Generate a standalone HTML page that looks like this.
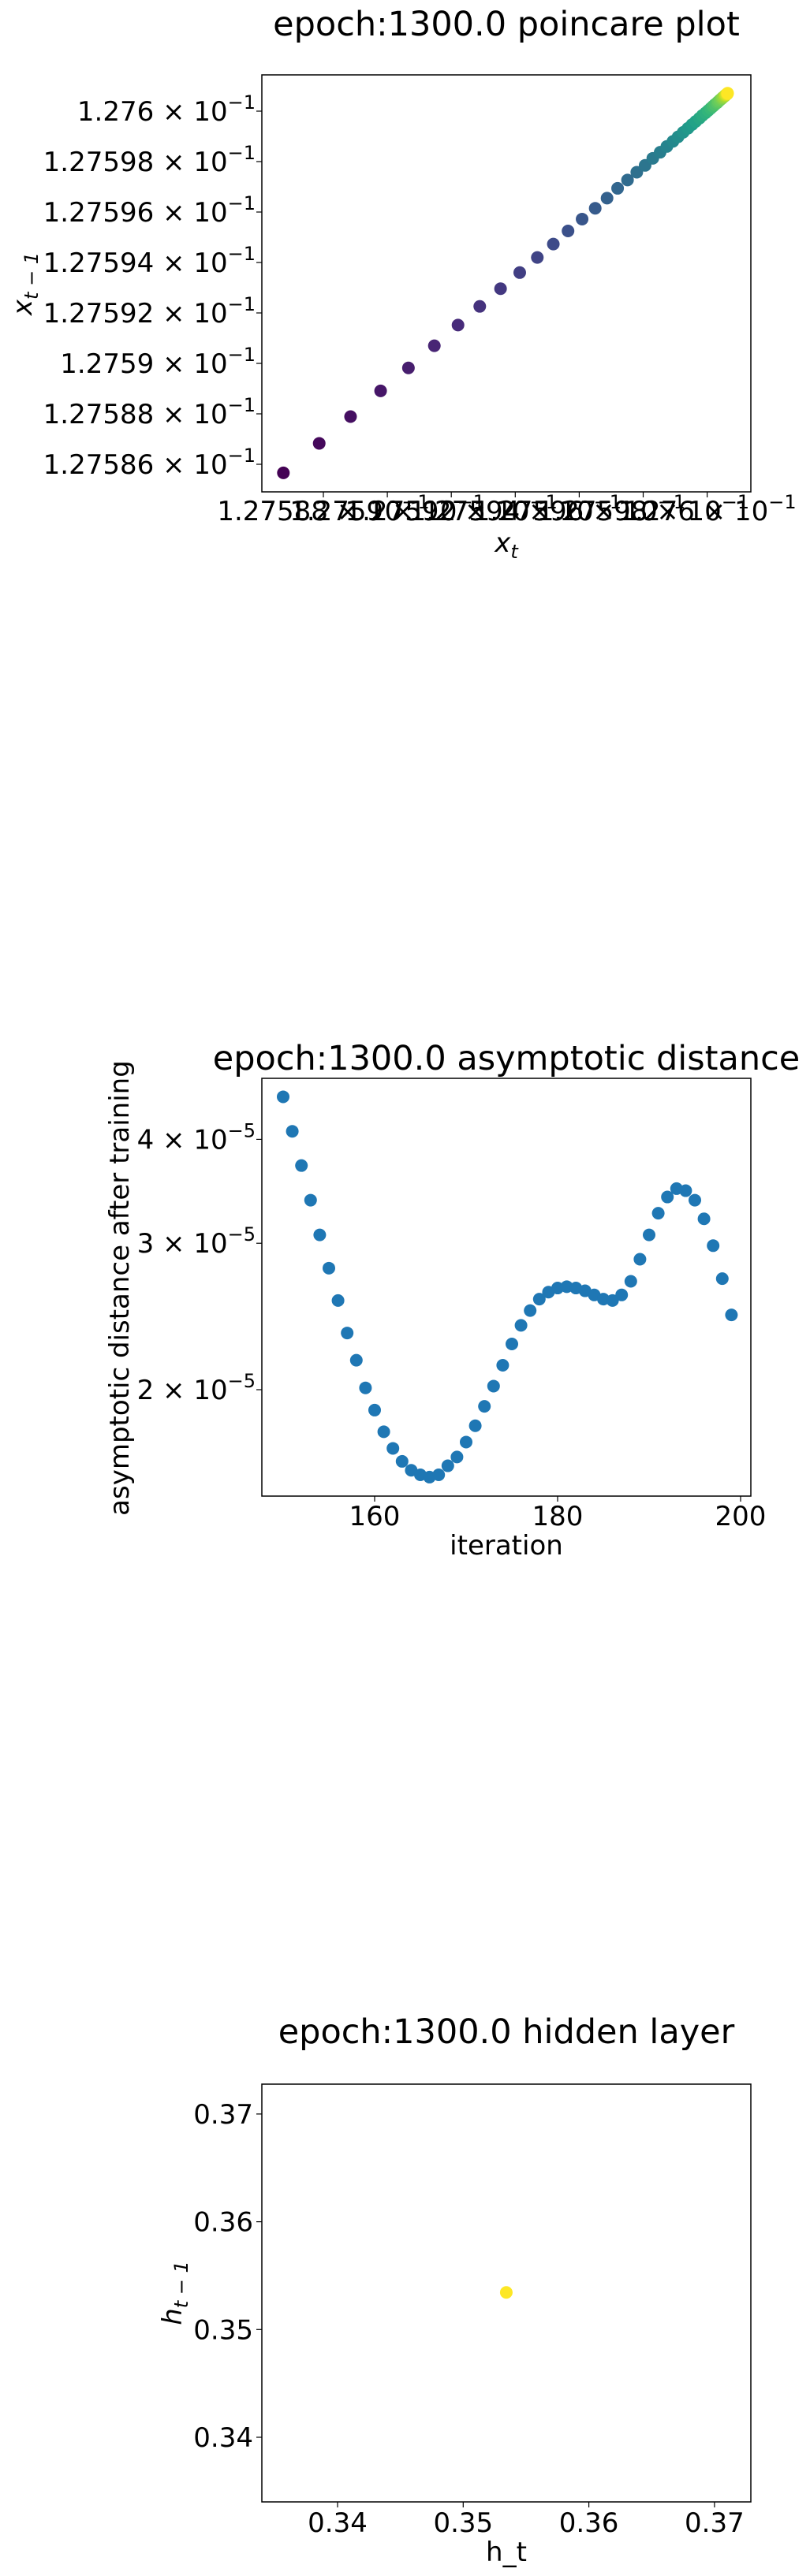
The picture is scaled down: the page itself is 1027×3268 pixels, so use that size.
<!DOCTYPE html>
<html><head><meta charset="utf-8"><title>epoch 1300 plots</title>
<style>html,body{margin:0;padding:0;background:#fff}svg{display:block}text{font-family:"DejaVu Sans","Liberation Sans",sans-serif;fill:#000}</style>
</head><body>
<svg id="fig" xmlns="http://www.w3.org/2000/svg" width="1027" height="3268" viewBox="0 0 1027 3268"></svg>
<script>
// ---- Chart 1: poincare plot (mantissa of value ×10^-1) ----
const poincareX = [1.2758675,1.2758787,1.2758885,1.2758979,1.2759066,1.2759147,1.2759221,1.2759289,1.2759354,1.2759414,1.2759469,1.2759519,1.2759565,1.2759609,1.275965,1.2759687,1.275972,1.2759751,1.275978,1.2759806,1.275983,1.2759853,1.2759874,1.2759893,1.2759909,1.2759925,1.275994,1.2759953,1.2759964,1.2759976,1.2759985,1.2759995,1.2760003,1.2760011,1.2760018,1.2760024,1.2760031,1.2760035,1.276004,1.2760045,1.2760048,1.2760051,1.2760055,1.2760056,1.2760058,1.2760059,1.2760061,1.2760063,1.2760063,1.2760064];
const poincareY = [1.2758566,1.2758683,1.2758789,1.2758891,1.2758982,1.275907,1.2759152,1.2759226,1.2759296,1.275936,1.275942,1.2759473,1.2759525,1.2759572,1.2759615,1.2759655,1.2759694,1.2759727,1.2759758,1.2759785,1.2759813,1.2759837,1.275986,1.275988,1.2759898,1.2759916,1.2759932,1.2759947,1.2759959,1.2759972,1.2759983,1.2759993,1.2760002,1.2760011,1.2760019,1.2760026,1.2760033,1.2760038,1.2760044,1.2760049,1.2760053,1.2760056,1.276006,1.2760062,1.2760064,1.2760065,1.2760067,1.2760069,1.2760069,1.2760071];
const poincareXTicks = [1.27588,1.2759,1.27592,1.27594,1.27596,1.27598,1.276];
const poincareXTickLabels = ["1.27588","1.2759","1.27592","1.27594","1.27596","1.27598","1.276"];
const poincareYTicks = [1.27586,1.27588,1.2759,1.27592,1.27594,1.27596,1.27598,1.276];
const poincareYTickLabels = ["1.27586","1.27588","1.2759","1.27592","1.27594","1.27596","1.27598","1.276"];

// ---- Chart 2: asymptotic distance (units of 1e-5) ----
const iterations = [150,151,152,153,154,155,156,157,158,159,160,161,162,163,164,165,166,167,168,169,170,171,172,173,174,175,176,177,178,179,180,181,182,183,184,185,186,187,188,189,190,191,192,193,194,195,196,197,198,199];
const distances = [4.50,4.09,3.72,3.38,3.07,2.80,2.56,2.34,2.17,2.01,1.89,1.78,1.70,1.64,1.60,1.58,1.57,1.58,1.62,1.66,1.73,1.81,1.91,2.02,2.14,2.27,2.39,2.49,2.57,2.62,2.65,2.66,2.65,2.63,2.60,2.57,2.56,2.60,2.70,2.87,3.07,3.26,3.41,3.49,3.47,3.38,3.21,2.98,2.72,2.46];
const distXTicks = [160,180,200];
const distYTicks = [2,3,4];

// ---- Chart 3: hidden layer ----
const hiddenX = [0.35343];
const hiddenY = [0.35344];
const hiddenTicks = [0.34,0.35,0.36,0.37];
const hiddenTickLabels = ["0.34","0.35","0.36","0.37"];

const NS = "http://www.w3.org/2000/svg";
const svg = document.getElementById('fig');
function el(tag, attrs, parent){const e=document.createElementNS(NS,tag);for(const k in attrs)e.setAttribute(k,attrs[k]);(parent||svg).appendChild(e);return e;}
function viridis(t){
  const s=[[68,1,84],[72,40,120],[62,74,137],[49,104,142],[38,130,142],[31,158,137],[53,183,121],[109,205,89],[180,222,44],[253,231,37]];
  const p=t*(s.length-1),i=Math.min(Math.floor(p),s.length-2),f=p-i;
  const c=s[i].map((v,k)=>Math.round(v+(s[i+1][k]-v)*f));return `rgb(${c[0]},${c[1]},${c[2]})`;
}
function sciLabel(g,x,y,mant,exp,name){
  const t=el('text',{x:x,y:y,'text-anchor':'end','font-size':34},g);
  
  
  const a=el('tspan',{},t);a.textContent=mant+' \u00d7 10';
  const b=el('tspan',{dy:-15,'font-size':24},t);b.textContent='\u2212'+exp;
  return t;
}
function frame(g,L,R,T,B){const r=el('rect',{x:L,y:T,width:R-L,height:B-T,fill:'none',stroke:'#000','stroke-width':1.5},g);
  
  }
function label(g,txt,x,y,size,name,extra){const t=el('text',Object.assign({x:x,y:y,'text-anchor':'middle','font-size':size},extra||{}),g);t.textContent=txt;
  
  return t;}

const L=332,R=952;
// ===== Chart 1 =====
(function(){
  const g=el('g',{});
  
  
  const T=95,B=624;
  const xs=v=>410+(v-1.27588)/0.00002*81.1;
  const ys=v=>141+(1.276-v)/0.00002*64;
  label(g,'epoch:1300.0 poincare plot',642,45,43,'chart-title');
  frame(g,L,R,T,B);
  poincareX.forEach((v,i)=>{const c=el('circle',{cx:xs(v),cy:ys(poincareY[i]),r:8,fill:viridis(i/(poincareX.length-1))},g);
    
    });
  poincareYTicks.forEach((v,i)=>{const y=ys(v);el('line',{x1:L-7,x2:L,y1:y,y2:y,stroke:'#000','stroke-width':1.2},g);
    sciLabel(g,324,y+12,poincareYTickLabels[i],'1','y-tick-label');});
  poincareXTicks.forEach((v,i)=>{const x=xs(v);el('line',{x1:x,x2:x,y1:B,y2:B+7,stroke:'#000','stroke-width':1.2},g);
    const t=el('text',{x:x,y:660,'text-anchor':'middle','font-size':34},g);
    
    
    el('tspan',{},t).textContent=poincareXTickLabels[i]+' \u00d7 10';
    el('tspan',{dy:-15,'font-size':24},t).textContent='\u22121';});
  const xl=label(g,'',642,700,34,'x-axis-title',{'font-style':'italic'});
  el('tspan',{},xl).textContent='x';el('tspan',{dy:8,'font-size':24},xl).textContent='t';
  const yl=label(g,'',0,0,34,'y-axis-title',{'font-style':'italic',transform:'translate(40,360) rotate(-90)'});
  el('tspan',{},yl).textContent='x';el('tspan',{dy:8,'font-size':24},yl).textContent='t \u2212 1';
})();

// ===== Chart 2 =====
(function(){
  const g=el('g',{});
  
  
  const T=1368,B=1898;
  const xs=v=>475+(v-160)/20*232;
  const ys=v=>1763-Math.log10(v/2)*1055;
  label(g,'epoch:1300.0 asymptotic distance',642,1357,43,'chart-title');
  frame(g,L,R,T,B);
  iterations.forEach((v,i)=>{const c=el('circle',{cx:xs(v),cy:ys(distances[i]),r:8,fill:'#1f77b4'},g);
    
    });
  distYTicks.forEach(v=>{const y=ys(v);el('line',{x1:L-7,x2:L,y1:y,y2:y,stroke:'#000','stroke-width':1.2},g);
    sciLabel(g,324,y+12,String(v),'5','y-tick-label');});
  distXTicks.forEach(v=>{const x=xs(v);el('line',{x1:x,x2:x,y1:B,y2:B+7,stroke:'#000','stroke-width':1.2},g);
    label(g,String(v),x,1935,34,'x-tick-label');});
  label(g,'iteration',642,1972,34,'x-axis-title');
  label(g,'asymptotic distance after training',0,0,34,'y-axis-title',{transform:'translate(163,1634) rotate(-90)'});
})();

// ===== Chart 3 =====
(function(){
  const g=el('g',{});
  
  
  const T=2644,B=3174;
  const xs=v=>428+(v-0.34)/0.01*159.3;
  const ys=v=>3092-(v-0.34)/0.01*136.7;
  label(g,'epoch:1300.0 hidden layer',642,2592,43,'chart-title');
  frame(g,L,R,T,B);
  hiddenX.forEach((v,i)=>{const c=el('circle',{cx:xs(v),cy:ys(hiddenY[i]),r:8,fill:'#fde725'},g);
    
    });
  hiddenTicks.forEach((v,i)=>{const y=ys(v);el('line',{x1:L-7,x2:L,y1:y,y2:y,stroke:'#000','stroke-width':1.2},g);
    const t=label(g,hiddenTickLabels[i],321,y+12,34,'y-tick-label');t.setAttribute('text-anchor','end');
    const x=xs(v);el('line',{x1:x,x2:x,y1:B,y2:B+7,stroke:'#000','stroke-width':1.2},g);
    label(g,hiddenTickLabels[i],x,3212,34,'x-tick-label');});
  label(g,'h_t',642,3249,34,'x-axis-title');
  const yl=label(g,'',0,0,34,'y-axis-title',{'font-style':'italic',transform:'translate(230,2909) rotate(-90)'});
  el('tspan',{},yl).textContent='h';el('tspan',{dy:8,'font-size':24},yl).textContent='t \u2212 1';
})();
</script>
</body></html>
